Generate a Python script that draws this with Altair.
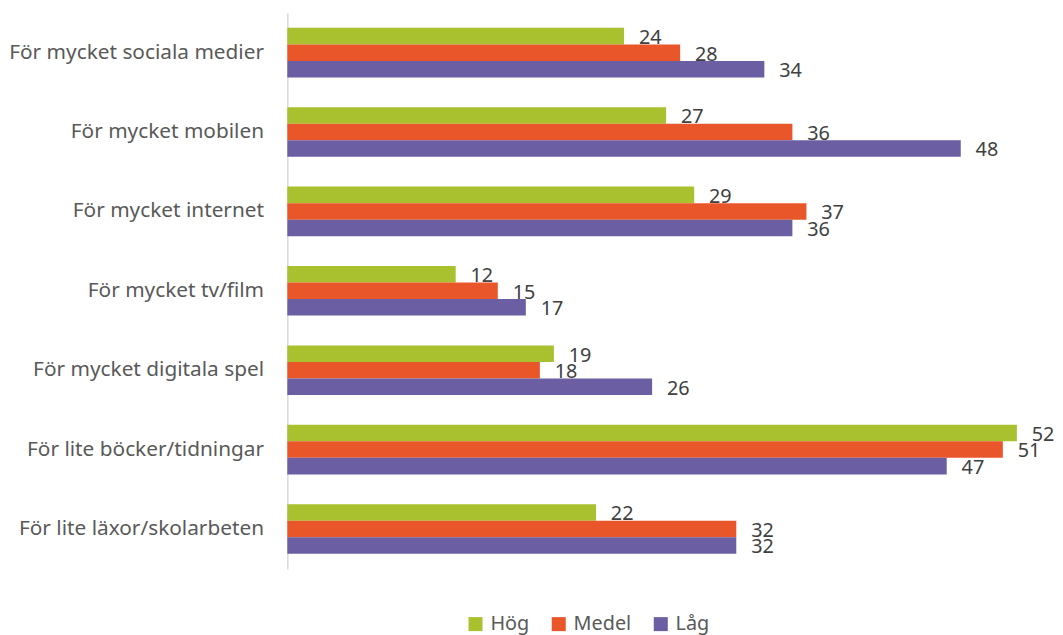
import altair as alt
import pandas as pd

categories = [
    "För mycket sociala medier",
    "För mycket mobilen",
    "För mycket internet",
    "För mycket tv/film",
    "För mycket digitala spel",
    "För lite böcker/tidningar",
    "För lite läxor/skolarbeten",
]
series = ["Hög", "Medel", "Låg"]
hog = [24, 27, 29, 12, 19, 52, 22]
medel = [28, 36, 37, 15, 18, 51, 32]
lag = [34, 48, 36, 17, 26, 47, 32]
colors = ["#A9C02F", "#E9562A", "#6B5EA3"]

rows = []
for s, vals in zip(series, [hog, medel, lag]):
    for c, v in zip(categories, vals):
        rows.append({"Kategori": c, "Grupp": s, "Värde": v})
df = pd.DataFrame(rows)

FONT = "Noto Sans"

y_enc = alt.Y("Kategori:N", sort=categories, title=None,
              scale=alt.Scale(paddingInner=0.375, paddingOuter=0.1875),
              axis=alt.Axis(domainColor="#D9D9D9", domainWidth=1.5, ticks=False,
                            labelFontSize=21, labelColor="#595959", labelFont=FONT,
                            labelPadding=24, labelLimit=400))
yoff = alt.YOffset("Grupp:N", sort=series, scale=alt.Scale(paddingInner=0, paddingOuter=0))
x_enc = alt.X("Värde:Q", axis=None, scale=alt.Scale(domain=[0, 53.8]))

base = alt.Chart(df).encode(y=y_enc, yOffset=yoff, x=x_enc)

bars = base.mark_bar(size=16.7).encode(
    color=alt.Color("Grupp:N", sort=series,
                    scale=alt.Scale(domain=series, range=colors),
                    legend=alt.Legend(title=None, orient="none", direction="horizontal",
                                      legendX=180, legendY=607,
                                      symbolType="square", symbolSize=200,
                                      symbolStrokeWidth=0,
                                      labelFontSize=20, labelColor="#595959",
                                      labelFont=FONT, columnPadding=19,
                                      labelOffset=5, padding=0))
)

labels = base.mark_text(align="left", baseline="middle", dx=15, dy=2,
                        fontSize=20, color="#404040", font=FONT).encode(
    text="Värde:Q"
)

chart = (bars + labels).properties(
    width=762, height=561,
    padding={"left": 0, "top": 2, "right": 0, "bottom": 0},
    background="white",
).configure_view(stroke=None)

chart.save("out.html", embed_options={"renderer": "svg", "actions": False})
